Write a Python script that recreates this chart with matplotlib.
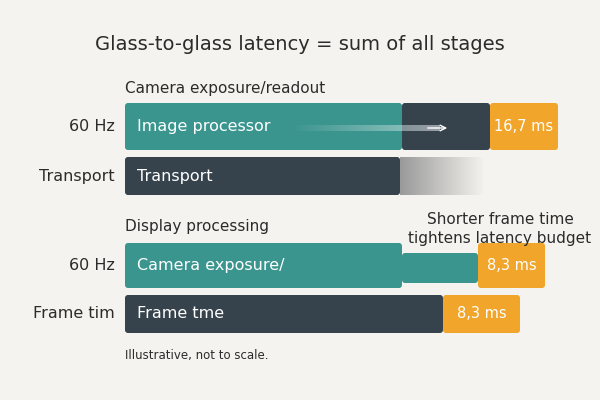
import matplotlib.pyplot as plt
import numpy as np
from matplotlib.patches import FancyBboxPatch

row_labels = ["60 Hz", "Transport", "60 Hz", "Frame tim"]
bar_texts = ["Image processor", "Transport", "Camera exposure/", "Frame tme"]
# segments per row: (start, end) in ms-like units
seg_starts = [[0, 277, 365], [0], [0, 277, 353], [0]]
seg_ends = [[277, 365, 433], [275], [277, 353, 420], [318]]
seg_kinds = [["teal", "dark", "orange"], ["dark"], ["teal", "teal2", "orange"], ["dark", "orange"]]
orange_labels = ["16,7 ms", None, "8,3 ms", "8,3 ms"]
seg_starts[3].append(318); seg_ends[3].append(395)

colors = {"teal": "#3b958f", "teal2": "#3b958f", "dark": "#36434d", "orange": "#f1a52a"}
row_y = [103, 157, 243, 295]
row_h = [47, 38, 45, 38]
x0 = 125

fig = plt.figure(figsize=(6, 4), dpi=100)
fig.patch.set_facecolor("#f4f3ef")
ax = fig.add_axes([0, 0, 1, 1])
ax.set_xlim(0, 600); ax.set_ylim(400, 0); ax.axis("off")

fn = "DejaVu Sans"
ax.text(300, 45, "Glass-to-glass latency = sum of all stages", ha="center", va="center", fontsize=14, color="#2b2b2b")
ax.text(125, 88, "Camera exposure/readout", ha="left", va="center", fontsize=11, color="#2b2b2b")
ax.text(125, 227, "Display processing", ha="left", va="center", fontsize=11, color="#2b2b2b")
ax.text(500, 219, "Shorter frame time", ha="center", va="center", fontsize=11, color="#2b2b2b")
ax.text(500, 239, "tightens latency budget", ha="center", va="center", fontsize=11, color="#2b2b2b")
ax.text(125, 356, "Illustrative, not to scale.", ha="left", va="center", fontsize=8.5, color="#2b2b2b")

for i in range(4):
    y, h = row_y[i], row_h[i]
    ax.text(115, y + h / 2, row_labels[i], ha="right", va="center", fontsize=11.5, color="#2b2b2b")
    for s, e, k in zip(seg_starts[i], seg_ends[i], seg_kinds[i]):
        yy, hh = (y + 10, h - 15) if k == "teal2" else (y, h)
        ax.add_patch(FancyBboxPatch((x0 + s, yy), e - s, hh, boxstyle="round,pad=0,rounding_size=3",
                                    fc=colors[k], ec="none"))
        if k == "orange" and orange_labels[i]:
            ax.text(x0 + (s + e) / 2, yy + hh / 2, orange_labels[i], ha="center", va="center",
                    fontsize=10.5, color="white")
    ax.text(x0 + 12, y + h / 2, bar_texts[i], ha="left", va="center", fontsize=11.5, color="white")

# gradient fade after transport
grad = np.linspace(1, 0, 100)[None, :]
from matplotlib.colors import LinearSegmentedColormap
cm = LinearSegmentedColormap.from_list("g", ["#f4f3ef", "#9a9a9a"])
ax.imshow(grad, extent=(400, 485, 195, 157), cmap=cm, aspect="auto", zorder=0.5)
ax.set_xlim(0, 600); ax.set_ylim(400, 0)
# streak arrow
ax.imshow(np.linspace(0, 1, 100)[None, :], extent=(290, 440, 131, 125),
          cmap=LinearSegmentedColormap.from_list("s", ["#3b958f", "#ffffff"]), aspect="auto", alpha=0.5, zorder=3)
ax.annotate("", xy=(450, 128), xytext=(425, 128), arrowprops=dict(arrowstyle="->", color="white", lw=1))
ax.set_xlim(0, 600); ax.set_ylim(400, 0)
fig.savefig("out.png", dpi=100, facecolor=fig.get_facecolor())
